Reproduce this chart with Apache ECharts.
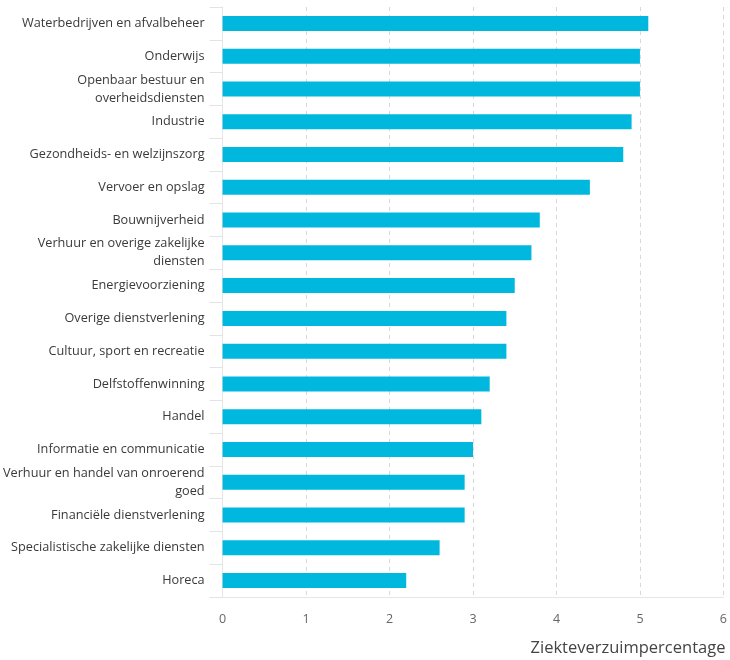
<!DOCTYPE html>
<html>
<head>
<meta charset="utf-8">
<script src="https://cdn.jsdelivr.net/npm/echarts@6/dist/echarts.min.js"></script>
<style>
html,body{margin:0;padding:0;background:#fff;}
#chart{width:730px;height:660px;}
</style>
</head>
<body>
<div id="chart"></div>
<script>
const categories = [
  "Waterbedrijven en afvalbeheer",
  "Onderwijs",
  "Openbaar bestuur en\noverheidsdiensten",
  "Industrie",
  "Gezondheids- en welzijnszorg",
  "Vervoer en opslag",
  "Bouwnijverheid",
  "Verhuur en overige zakelijke\ndiensten",
  "Energievoorziening",
  "Overige dienstverlening",
  "Cultuur, sport en recreatie",
  "Delfstoffenwinning",
  "Handel",
  "Informatie en communicatie",
  "Verhuur en handel van onroerend\ngoed",
  "Financiële dienstverlening",
  "Specialistische zakelijke diensten",
  "Horeca"
];
const values = [5.1, 5.0, 5.0, 4.9, 4.8, 4.4, 3.8, 3.7, 3.5, 3.4, 3.4, 3.2, 3.1, 3.0, 2.9, 2.9, 2.6, 2.2];
const axisName = "Ziekteverzuimpercentage";

const chart = echarts.init(document.getElementById('chart'), null, {renderer: 'canvas'});
const font = "'Open Sans', 'Noto Sans', sans-serif";
chart.setOption({
  animation: false,
  backgroundColor: '#ffffff',
  textStyle: {fontFamily: font},
  grid: {left: 220, right: 2, top: 7, bottom: 63, containLabel: false},
  xAxis: {
    type: 'value',
    min: 0, max: 6, interval: 1,
    axisLine: {show: true, lineStyle: {color: '#e6e6e6'}},
    axisTick: {show: false},
    axisLabel: {color: '#666', fontSize: 12.5, margin: 16, fontFamily: font},
    splitLine: {show: true, lineStyle: {color: '#d8d8d8', type: [4, 4]}},
    name: axisName,
    nameLocation: 'end',
    nameGap: 0,
    nameTextStyle: {color: '#444', fontSize: 16.5, align: 'right', verticalAlign: 'top', padding: [43, -2, 0, 0], fontFamily: font}
  },
  yAxis: {
    type: 'category',
    data: categories,
    inverse: true,
    axisLine: {show: true, lineStyle: {color: '#e6e6e6'}},
    axisTick: {show: true, length: 13, lineStyle: {color: '#e3e3e3'}},
    axisLabel: {color: '#3a3a3a', fontSize: 12.7, margin: 18, lineHeight: 18, fontFamily: font},
    splitLine: {show: false}
  },
  series: [{
    type: 'bar',
    data: values,
    barWidth: 15,
    itemStyle: {color: '#00b8dd'}
  }]
});
</script>
</body>
</html>
